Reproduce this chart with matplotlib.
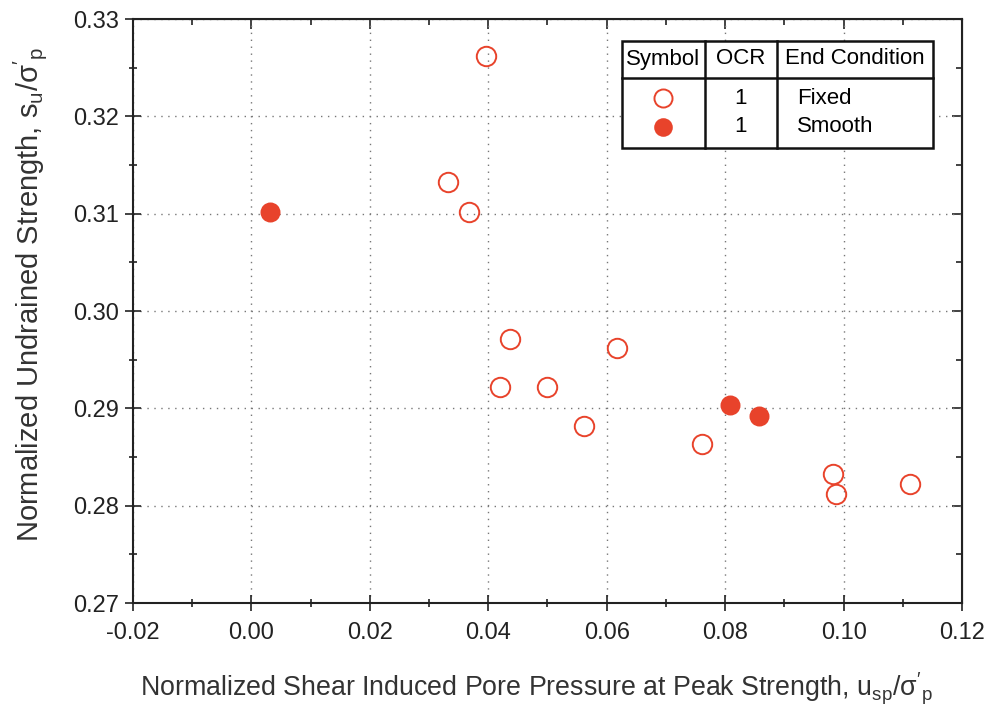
import matplotlib
matplotlib.use("Agg")
import matplotlib.pyplot as plt
from matplotlib.ticker import MultipleLocator, FormatStrFormatter
from matplotlib.lines import Line2D

plt.rcParams['font.family'] = ['Liberation Sans', 'DejaVu Sans']
plt.rcParams['mathtext.fontset'] = 'custom'
plt.rcParams['mathtext.rm'] = 'Liberation Sans'
plt.rcParams['mathtext.it'] = 'Liberation Sans'

# Fixed end condition tests
fixed_x = [0.0396, 0.0332, 0.0367, 0.0437, 0.0420, 0.0499, 0.0562, 0.0617,
           0.0761, 0.0982, 0.0987, 0.1112]
fixed_y = [0.3262, 0.3133, 0.3102, 0.2971, 0.2922, 0.2922, 0.2882, 0.2962,
           0.2863, 0.2833, 0.2812, 0.2822]
# Smooth end condition tests
smooth_x = [0.0031, 0.0808, 0.0857]
smooth_y = [0.3102, 0.2903, 0.2892]

legend_header = ["Symbol", "OCR", "End Condition"]
legend_ocr = ["1", "1"]
legend_cond = ["Fixed", "Smooth"]

red = '#e8432b'
ink = '#222222'

fig = plt.figure(figsize=(9.87, 7.09), dpi=100)
ax = fig.add_axes([133/987, 1 - 603/709, (962-133)/987, (603-19)/709])

ax.plot(fixed_x, fixed_y, 'o', ms=14, mfc='none', mec=red, mew=1.4, zorder=3)
ax.plot(smooth_x, smooth_y, 'o', ms=13, mfc=red, mec=red, mew=1.4, zorder=3)

ax.set_xlim(-0.02, 0.12)
ax.set_ylim(0.27, 0.33)
ax.xaxis.set_major_locator(MultipleLocator(0.02))
ax.xaxis.set_minor_locator(MultipleLocator(0.01))
ax.yaxis.set_major_locator(MultipleLocator(0.01))
ax.yaxis.set_minor_locator(MultipleLocator(0.005))
ax.xaxis.set_major_formatter(FormatStrFormatter('%.2f'))
ax.yaxis.set_major_formatter(FormatStrFormatter('%.2f'))

ax.tick_params(which='both', direction='inout', top=False, right=False,
               width=1.2, colors=ink)
ax.tick_params(which='major', length=12)
ax.tick_params(which='minor', length=6)
ax.tick_params(axis='x', which='major', labelsize=17, pad=8)
ax.tick_params(axis='y', which='major', labelsize=17, pad=4)
for s in ax.spines.values():
    s.set_linewidth(1.5)
    s.set_color(ink)

# inward ticks on the top and right edges
axt = ax.secondary_xaxis('top')
axt.xaxis.set_major_locator(MultipleLocator(0.02))
axt.xaxis.set_minor_locator(MultipleLocator(0.01))
axt.tick_params(which='both', direction='in', labeltop=False, width=1.2, colors=ink)
axt.tick_params(which='major', length=7)
axt.tick_params(which='minor', length=4)
axr = ax.secondary_yaxis('right')
axr.yaxis.set_major_locator(MultipleLocator(0.01))
axr.yaxis.set_minor_locator(MultipleLocator(0.005))
axr.tick_params(which='both', direction='in', labelright=False, width=1.2, colors=ink)
axr.tick_params(which='major', length=7)
axr.tick_params(which='minor', length=4)

ax.grid(True, which='major', linestyle=(0, (1, 4)), color='#777777', linewidth=1.0)

ax.set_xlabel(r"Normalized Shear Induced Pore Pressure at Peak Strength, $\mathregular{u_{sp}/\sigma'_p}$",
              fontsize=19.3, color='#333333', labelpad=19)
ax.xaxis.label.set_x(0.487)
ax.set_ylabel(r"Normalized Undrained Strength, $\mathregular{s_u/\sigma'_p}$",
              fontsize=21, color='#333333', labelpad=17)
ax.yaxis.label.set_y(0.528)

# table-style key
def fx(px):
    return (px - 133) / 829

def fy(py):
    return (603 - py) / 584

L, R, T, B = fx(622), fx(933), fy(41), fy(148)
c1, c2 = fx(705), fx(777)
hdr = fy(78)
lw = 1.8
tr = ax.transAxes
ax.add_patch(plt.Rectangle((L, B), R - L, T - B, transform=tr, fc='white',
                           ec='#111111', lw=lw, zorder=5))
for x in (c1, c2):
    ax.add_line(Line2D([x, x], [B, T], transform=tr, color='#111111', lw=lw, zorder=6))
ax.add_line(Line2D([L, R], [hdr, hdr], transform=tr, color='#111111', lw=lw, zorder=6))

fs = 16
hy = fy(59)
ax.text(fx(663), hy, legend_header[0], transform=tr, ha='center', va='center', fontsize=fs, zorder=7)
ax.text(fx(741), hy, legend_header[1], transform=tr, ha='center', va='center', fontsize=fs, zorder=7)
ax.text(fx(855), hy, legend_header[2], transform=tr, ha='center', va='center', fontsize=fs, zorder=7)

rows = [fy(98), fy(127)]
ax.add_line(Line2D([fx(663)], [rows[0]], transform=tr, marker='o', ms=13, mfc='none',
                   mec=red, mew=1.4, ls='none', zorder=7))
ax.add_line(Line2D([fx(663)], [rows[1]], transform=tr, marker='o', ms=12, mfc=red,
                   mec=red, mew=1.4, ls='none', zorder=7))
for ry, o, c in zip(rows, legend_ocr, legend_cond):
    ax.text(fx(741), ry, o, transform=tr, ha='center', va='center', fontsize=fs, zorder=7)
    ax.text(fx(797), ry, c, transform=tr, ha='left', va='center', fontsize=fs, zorder=7)

fig.savefig('out.png', dpi=100)
